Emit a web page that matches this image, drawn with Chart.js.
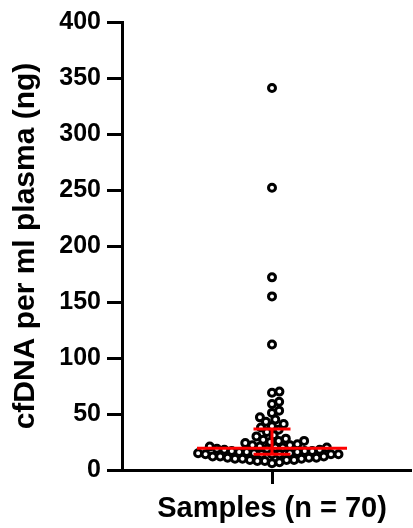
<!DOCTYPE html>
<html>
<head>
<meta charset="utf-8">
<script src="https://cdn.jsdelivr.net/npm/chart.js@4"></script>
<style>
html,body{margin:0;padding:0;background:#ffffff;}
canvas{display:block;}
</style>
</head>
<body>
<canvas id="c" width="413" height="528"></canvas>
<script>
// ---------------- data ----------------
const categoryLabel = 'Samples (n = 70)';
const yAxisTitle = 'cfDNA per ml plasma (ng)';
const yTickValues = [0, 50, 100, 150, 200, 250, 300, 350, 400];
const cfDNA = [341, 252, 172, 155, 112, 70, 69, 61, 59, 53, 51, 47,
  45, 43, 41, 39, 38,
  36, 34, 31, 30, 28, 27, 26, 26, 25, 24, 23, 22, 22, 21, 21, 20, 20, 20,
  19, 19, 18, 18, 17, 17, 17, 16, 16, 16, 15, 15, 15, 14, 14, 14, 14,
  14, 14, 12, 12, 12, 11, 11, 11, 10, 10, 10, 9, 9, 9, 8, 8, 7, 6];

// ---------------- helpers ----------------
function quantile(vals, p) {
  const s = vals.slice().sort((a, b) => a - b);
  const n = s.length;
  let r = (n + 1) * p;
  if (r < 1) r = 1; if (r > n) r = n;
  const lo = Math.floor(r), hi = Math.ceil(r);
  return s[lo - 1] + (r - lo) * (s[hi - 1] - s[lo - 1]);
}
function swarm(vals, pxPerUnit, d) {
  const idx = vals.map((v, i) => i).sort((a, b) => vals[a] - vals[b]);
  const placed = [];
  const xs = new Array(vals.length).fill(0);
  for (const i of idx) {
    const y = vals[i] * pxPerUnit;
    const cands = [0];
    for (const p of placed) {
      const dy = Math.abs(p.y - y);
      if (dy < d) {
        const dx = Math.sqrt(d * d - dy * dy);
        cands.push(p.x + dx, p.x - dx);
      }
    }
    cands.sort((a, b) => Math.abs(a) - Math.abs(b));
    let x = 0;
    for (const c of cands) {
      if (placed.every(p => (p.x - c) ** 2 + (p.y - y) ** 2 >= d * d - 1e-6)) { x = c; break; }
    }
    placed.push({x, y});
    xs[i] = x;
  }
  return xs;
}

const median = quantile(cfDNA, 0.5);
const q1 = quantile(cfDNA, 0.25);
const q3 = quantile(cfDNA, 0.75);

const FONT = 'Arial, "Liberation Sans", Helvetica, sans-serif';
const MEDIAN_HALF = 75;
const CAP_HALF = 18.5;
const RED = '#ff0000';

const redLine = (pts) => ({
  type: 'line', data: pts, showLine: true, borderColor: RED, borderWidth: 3,
  pointRadius: 0, pointHoverRadius: 0, fill: false, tension: 0, borderCapStyle: 'butt'
});

// x-axis title drawn centred under the category tick
const categoryTitle = {
  id: 'categoryTitle',
  afterDraw(chart) {
    const {ctx, scales: {x}} = chart;
    ctx.save();
    ctx.fillStyle = '#000';
    ctx.font = 'bold 29px ' + FONT;
    ctx.textAlign = 'center';
    ctx.textBaseline = 'alphabetic';
    ctx.fillText(categoryLabel, x.getPixelForValue(0), 517);
    ctx.restore();
  }
};

const chart = new Chart(document.getElementById('c'), {
  type: 'scatter',
  data: {
    datasets: [
      redLine([{x: -MEDIAN_HALF, y: median}, {x: MEDIAN_HALF, y: median}]),
      redLine([{x: 0, y: q1}, {x: 0, y: q3}]),
      redLine([{x: -CAP_HALF, y: q1}, {x: CAP_HALF, y: q1}]),
      redLine([{x: -CAP_HALF, y: q3}, {x: CAP_HALF, y: q3}]),
      {
        label: categoryLabel,
        data: cfDNA.map(v => ({x: 0, y: v})),
        pointRadius: 3.5,
        pointBorderWidth: 3,
        pointBorderColor: '#000000',
        pointBackgroundColor: '#ffffff',
        pointHoverRadius: 3.5
      }
    ]
  },
  plugins: [categoryTitle],
  options: {
    responsive: false,
    animation: false,
    events: [],
    layout: {autoPadding: false, padding: {top: 22, right: 2, bottom: 0, left: 0}},
    plugins: {legend: {display: false}, tooltip: {enabled: false}},
    scales: {
      x: {
        type: 'linear', min: -150, max: 139,
        afterBuildTicks: s => { s.ticks = [{value: 0}]; },
        afterFit: s => { s.height = 58; },
        ticks: {callback: () => '', padding: 0},
        grid: {drawOnChartArea: false, drawTicks: true, tickLength: 14, tickWidth: 3, tickColor: '#000'},
        border: {display: true, width: 3, color: '#000'},
        title: {display: false}
      },
      y: {
        type: 'linear', min: 0, max: 400,
        afterBuildTicks: s => { s.ticks = yTickValues.map(v => ({value: v})); },
        afterFit: s => { s.width = 122; },
        ticks: {color: '#000', font: {family: FONT, size: 25, weight: 'bold'}, padding: 6},
        grid: {drawOnChartArea: false, drawTicks: true, tickLength: 15, tickWidth: 3, tickColor: '#000'},
        border: {display: true, width: 3, color: '#000'},
        title: {display: true, text: yAxisTitle, color: '#000',
          font: {family: FONT, size: 30, weight: 'bold'}, padding: {top: 8, bottom: 0}}
      }
    }
  }
});

// beeswarm horizontal spread computed from the values and the y scale
const ys = chart.scales.y;
const pxPerUnit = Math.abs(ys.getPixelForValue(0) - ys.getPixelForValue(1));
const xs = swarm(cfDNA, pxPerUnit, 7.5);
chart.data.datasets[4].data = cfDNA.map((v, i) => ({x: xs[i], y: v}));
chart.update('none');
</script>
</body>
</html>
